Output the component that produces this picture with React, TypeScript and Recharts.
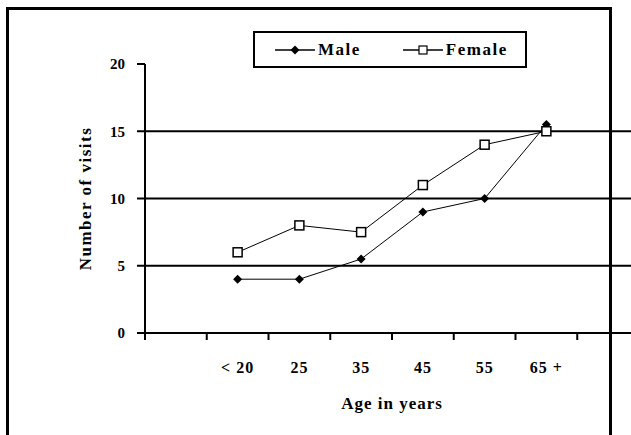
import React from 'react';
import { LineChart, Line, XAxis, YAxis, ReferenceLine, Legend } from 'recharts';

// blank slot at each end, like the original sheet
const ageGroups = ['', '< 20', '25', '35', '45', '55', '65 +', ' '];
const maleVisits = [null, 4, 4, 5.5, 9, 10, 15.5, null];
const femaleVisits = [null, 6, 8, 7.5, 11, 14, 15, null];
const yTicks = [0, 5, 10, 15, 20];
const gridValues = [5, 10, 15];

const data = ageGroups.map((age, i) => ({
  age,
  male: maleVisits[i],
  female: femaleVisits[i],
}));

const FONT = '"Liberation Serif", "Times New Roman", serif';

const Diamond = ({ cx, cy }: any) => {
  if (cx == null || cy == null) return null;
  const r = 4.5;
  return <polygon points={`${cx},${cy - r} ${cx + r},${cy} ${cx},${cy + r} ${cx - r},${cy}`} fill="#000" />;
};

const Square = ({ cx, cy }: any) => {
  if (cx == null || cy == null) return null;
  const s = 9;
  return <rect x={cx - s / 2} y={cy - s / 2} width={s} height={s} fill="#fff" stroke="#000" strokeWidth={1.5} />;
};

const AgeTick = ({ x, y, payload }: any) => {
  const half = payload.offset ?? 0;
  return (
    <g>
      <line x1={x - half} y1={y} x2={x - half} y2={y + 7} stroke="#000" strokeWidth={2} />
      <text x={x} y={y + 34} textAnchor="middle" dominantBaseline="central" fontFamily={FONT} fontWeight="bold" fontSize={16} letterSpacing={1} fill="#000">
        {payload.value}
      </text>
    </g>
  );
};

const YLabel = ({ viewBox }: any) => {
  const cx = viewBox.x + 85;
  const cy = viewBox.y + viewBox.height / 2;
  return (
    <text x={cx} y={cy} transform={`rotate(-90 ${cx} ${cy})`} textAnchor="middle" dominantBaseline="central" fontFamily={FONT} fontWeight="bold" fontSize={17} letterSpacing={1.5} fill="#000">
      Number of visits
    </text>
  );
};

const LegendBox = () => (
  <div style={{ boxSizing: 'border-box', width: '100%', height: '100%', border: '2px solid #000', background: '#fff', display: 'flex', alignItems: 'center', fontFamily: FONT, fontWeight: 'bold', fontSize: 17, letterSpacing: 1.5 }}>
    <svg width={40} height={12} style={{ marginLeft: 20 }}>
      <line x1={0} y1={6} x2={40} y2={6} stroke="#000" strokeWidth={1.5} />
      <Diamond cx={20} cy={6} />
    </svg>
    <span style={{ marginLeft: 3 }}>Male</span>
    <svg width={40} height={12} style={{ marginLeft: 42 }}>
      <line x1={0} y1={6} x2={40} y2={6} stroke="#000" strokeWidth={1.5} />
      <rect x={16} y={2} width={8} height={8} fill="#fff" stroke="#000" strokeWidth={1.2} />
    </svg>
    <span style={{ marginLeft: 3 }}>Female</span>
  </div>
);

export default function App() {
  return (
    <div style={{ position: 'absolute', left: 0, top: 0, width: 631, height: 435, overflow: 'hidden', background: '#fff' }}>
      <div style={{ position: 'absolute', left: 6, top: 7, width: 606, height: 440, border: '3px solid #000', borderBottom: 'none', boxSizing: 'border-box' }} />
      <div style={{ position: 'absolute', left: 0, top: 0 }}>
        <LineChart width={660} height={435} data={data} margin={{ top: 64, right: 21, bottom: 0, left: 0 }}>
          <XAxis
            dataKey="age"
            scale="band"
            interval={0}
            tickLine={false}
            tickSize={0}
            tickMargin={0}
            tick={<AgeTick />}
            height={102}
            axisLine={{ stroke: '#000', strokeWidth: 2 }}
            label={{ value: 'Age in years', position: 'insideBottom', offset: 26, fontFamily: FONT, fontWeight: 'bold', fontSize: 17, letterSpacing: 1, fill: '#000' }}
          />
          <YAxis
            domain={[0, 20]}
            ticks={yTicks}
            width={145}
            tickSize={8}
            tickMargin={12}
            axisLine={{ stroke: '#000', strokeWidth: 2 }}
            tickLine={{ stroke: '#000', strokeWidth: 2 }}
            tick={{ fontFamily: FONT, fontWeight: 'bold', fontSize: 15, fill: '#000' }}
            label={<YLabel />}
          />
          {gridValues.map((v) => (
            <ReferenceLine key={v} y={v} stroke="#000" strokeWidth={2} />
          ))}
          <Legend
            layout="horizontal"
            verticalAlign="middle"
            align="center"
            content={<LegendBox />}
            wrapperStyle={{ position: 'absolute', left: 253, top: 31, width: 274, height: 37 }}
          />
          <Line dataKey="male" name="Male" stroke="#000" strokeWidth={1} dot={<Diamond />} isAnimationActive={false} />
          <Line dataKey="female" name="Female" stroke="#000" strokeWidth={1} dot={<Square />} isAnimationActive={false} />
        </LineChart>
      </div>
    </div>
  );
}
